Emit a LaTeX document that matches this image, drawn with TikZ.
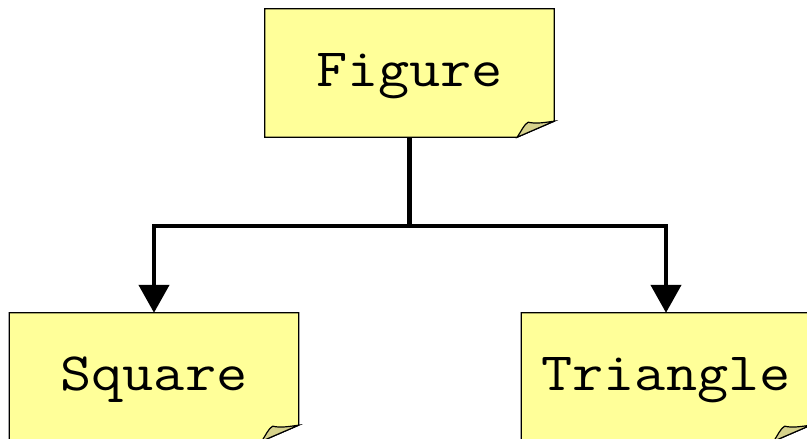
\documentclass[tikz,border=0pt]{standalone}
\usepackage{fontspec}
\setmonofont[FakeStretch=1.12]{Latin Modern Mono}
\usetikzlibrary{arrows.meta,backgrounds}
\definecolor{notefill}{RGB}{255,255,153}
\definecolor{foldfill}{RGB}{214,210,140}
\newcommand\drawnote[1]{%
  \begin{pgfonlayer}{background}
    \filldraw[noteline,fill=notefill] (#1.north west) -- (#1.north east)
      -- ([yshift=16pt]#1.south east) -- ([xshift=-37pt]#1.south east)
      -- (#1.south west) -- cycle;
    \begin{scope}[shift={(#1.south east)}]
      \filldraw[noteline,fill=foldfill] (-37,0) .. controls (-33,-6) and (-30,-13) .. (-26,-15)
        .. controls (-18,-13) and (-8,-15) .. (0,-16) -- cycle;
    \end{scope}
  \end{pgfonlayer}}
\begin{document}
\begin{tikzpicture}[x=1pt,y=-1pt,
  notebox/.style={minimum width=289pt,minimum height=128pt,inner sep=0pt,
    font=\ttfamily\fontsize{54}{54}\selectfont,text height=34pt,text depth=8pt},
  noteline/.style={draw=black,line width=1.2pt,line join=miter},
  link/.style={line width=4.5pt,line join=miter},
  arr/.style={-{Triangle[width=30pt,length=28pt]}}]
\useasboundingbox (0,0) rectangle (807,439);
\node[notebox] (fig) at (409.5,73) {Figure};
\node[notebox] (sq) at (154,377) {Square};
\node[notebox] (tri) at (666,377) {Triangle};
\drawnote{fig}
\drawnote{sq}
\drawnote{tri}
\coordinate (j) at (409.5,226);
\draw[link] (fig.south) -- (j);
\draw[link,arr] (j) -| (sq.north);
\draw[link,arr] (j) -| (tri.north);
\end{tikzpicture}
\end{document}
